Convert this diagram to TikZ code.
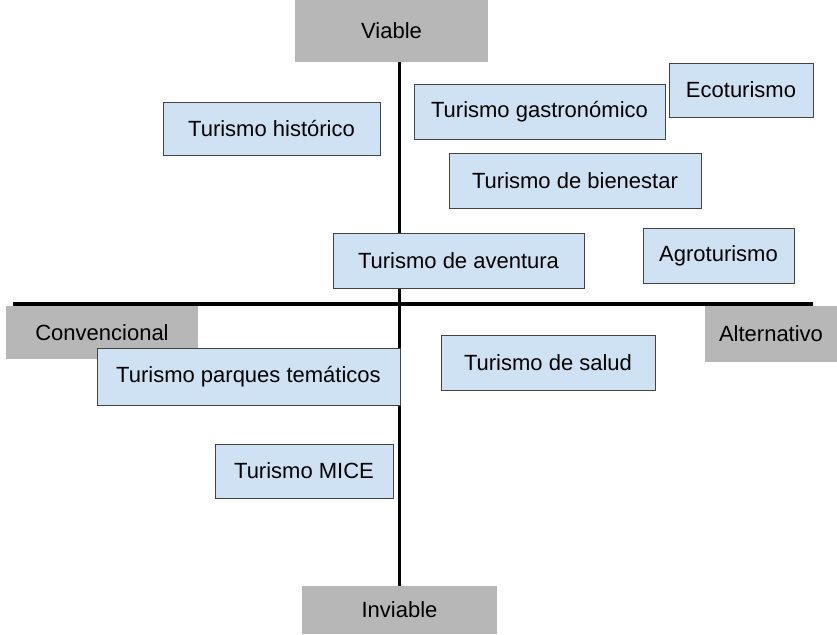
\documentclass[tikz,border=0pt]{standalone}
\usepackage{fontspec}
\setmainfont{Liberation Sans}
\definecolor{celeste}{HTML}{CFE2F3}
\definecolor{gris}{HTML}{B7B7B7}
\definecolor{borde}{HTML}{434343}
\tikzset{
    categoria/.style={draw=borde, line width=1pt, fill=celeste, inner sep=0pt,
        font=\fontsize{22}{26}\selectfont},
    extremo/.style={fill=gris, inner sep=0pt, font=\fontsize{22}{26}\selectfont},
    eje/.style={line width=3.5pt}
}
\begin{document}
\begin{tikzpicture}[x=1pt, y=-1pt]
        \useasboundingbox (0,0) rectangle (837,634);

        % Ends of the horizontal axis
        \coordinate (izq) at (13,304);
        \coordinate (der) at (813,304);

        % Draw the horizontal axis
        \draw[eje] (izq) -- (der);

        % Grey labels at the ends of each axis
        \node at (391.5,31) [extremo, minimum width=193pt, minimum height=62pt] (viable) {Viable};
        \node at (399.5,610) [extremo, minimum width=195pt, minimum height=48pt] (inviable) {Inviable};
        \node at (102,332.5) [extremo, minimum width=192pt, minimum height=53pt] (convencional) {Convencional};
        \node at (771,334) [extremo, minimum width=132pt, minimum height=56pt] (alternativo) {Alternativo};

        % Draw the vertical axis
        \draw[eje] (viable.south -| inviable.north) -- (inviable.north);

        % Upper half
        \node at (271.5,128.5) [categoria, minimum width=217pt, minimum height=53pt] (historico) {Turismo histórico};
        \node at (539.5,111.5) [categoria, minimum width=251pt, minimum height=55pt] (gastronomico) {Turismo gastronómico};
        \node at (741,90) [categoria, minimum width=144pt, minimum height=54pt] (ecoturismo) {Ecoturismo};
        \node at (575,180.5) [categoria, minimum width=252pt, minimum height=55pt] (bienestar) {Turismo de bienestar};
        \node at (458.5,260.5) [categoria, minimum width=251pt, minimum height=55pt] (aventura) {Turismo de aventura};
        \node at (718.5,255.5) [categoria, minimum width=151pt, minimum height=55pt] (agroturismo) {Agroturismo};

        % Lower half
        \node at (248.5,376.5) [categoria, minimum width=303pt, minimum height=57pt] (parques) {Turismo parques temáticos};
        \node at (548,362.5) [categoria, minimum width=214pt, minimum height=55pt] (salud) {Turismo de salud};
        \node at (304,471) [categoria, minimum width=178pt, minimum height=54pt] (mice) {Turismo MICE};
    \end{tikzpicture}
\end{document}
